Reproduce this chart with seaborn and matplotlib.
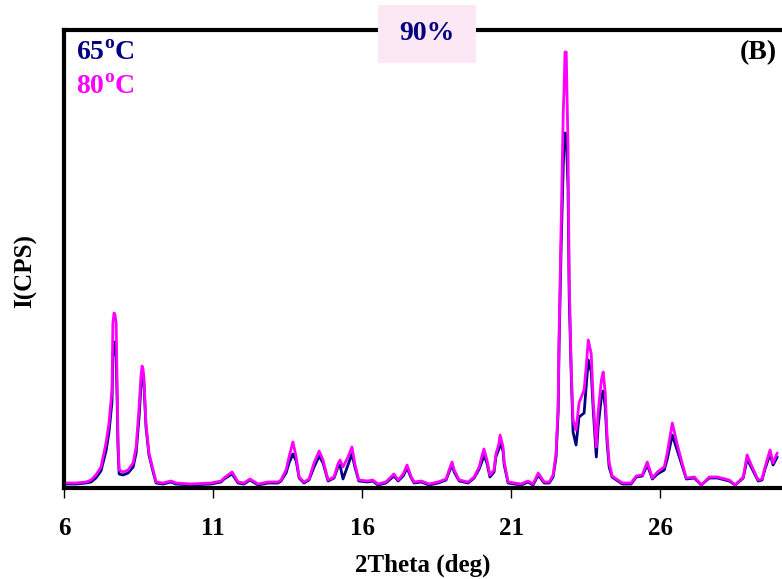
import numpy as np
import pandas as pd
import seaborn as sns
import matplotlib
matplotlib.use('Agg')
import matplotlib.pyplot as plt
from matplotlib.patches import Rectangle

# 2Theta positions (deg)
two_theta = [6.00, 6.40, 6.74, 6.91, 7.07, 7.24, 7.41, 7.51, 7.61, 7.64, 7.68, 7.71, 7.75, 7.78, 7.81, 7.85,
             7.98, 8.15, 8.32, 8.42, 8.52, 8.58, 8.62, 8.65, 8.68, 8.75, 8.85, 8.99, 9.09, 9.32, 9.59, 9.76,
             10.26, 10.93, 11.27, 11.37, 11.64, 11.84, 12.04, 12.24, 12.51, 12.85, 13.18, 13.28, 13.45, 13.55,
             13.68, 13.79, 13.89, 14.05, 14.22, 14.39, 14.56, 14.69, 14.86, 15.06, 15.19, 15.26, 15.36, 15.53,
             15.66, 15.76, 15.89, 16.19, 16.36, 16.53, 16.80, 17.07, 17.21, 17.38, 17.51, 17.65, 17.75, 17.99,
             18.25, 18.55, 18.82, 18.92, 19.02, 19.09, 19.26, 19.56, 19.76, 19.93, 20.03, 20.09, 20.19, 20.29,
             20.43, 20.49, 20.59, 20.63, 20.73, 20.77, 20.90, 21.34, 21.57, 21.74, 21.91, 22.11, 22.28, 22.41,
             22.51, 22.58, 22.61, 22.68, 22.75, 22.78, 22.81, 22.85, 22.91, 22.95, 23.02, 23.08, 23.18, 23.28,
             23.45, 23.52, 23.59, 23.69, 23.76, 23.86, 23.92, 24.03, 24.09, 24.16, 24.22, 24.29, 24.39, 24.73,
             25.03, 25.20, 25.40, 25.57, 25.74, 25.91, 26.14, 26.24, 26.41, 26.54, 26.71, 26.88, 27.15, 27.38,
             27.65, 27.92, 28.32, 28.52, 28.79, 28.92, 29.09, 29.29, 29.42, 29.52, 29.69, 29.79, 29.93]

# intensity (arbitrary units), 65 C and 80 C
i_65 = [3, 3, 4, 5, 9, 16, 36, 55, 85, 130, 145, 143, 130, 90, 40, 13,
        12, 14, 20, 34, 70, 100, 115, 113, 104, 60, 32, 15, 4, 3, 5, 3,
        2, 3, 5, 8, 13, 4, 3, 7, 2, 4, 4, 6, 14, 24,
        33, 26, 9, 4, 7, 20, 31, 24, 6, 9, 20, 22, 8, 22,
        33, 20, 6, 5, 6, 2, 4, 11, 6, 11, 19, 9, 4, 5,
        2, 4, 7, 15, 22, 15, 6, 4, 9, 18, 26, 32, 24, 10,
        15, 30, 38, 45, 36, 22, 4, 2, 5, 2, 12, 4, 4, 10,
        30, 75, 140, 240, 320, 345, 354, 352, 300, 190, 110, 55, 42, 70,
        74, 100, 127, 115, 75, 30, 60, 90, 96, 80, 45, 20, 10, 3,
        3, 10, 11, 22, 8, 13, 17, 28, 52, 40, 24, 8, 9, 2,
        9, 9, 6, 2, 9, 28, 18, 6, 7, 18, 33, 22, 30]

i_80 = [4, 4, 5, 7, 12, 20, 44, 64, 97, 164, 174, 172, 164, 104, 50, 17,
        15, 17, 24, 40, 80, 110, 121, 118, 110, 64, 34, 17, 5, 4, 6, 4,
        3, 4, 6, 9, 15, 5, 4, 8, 3, 5, 5, 7, 17, 30,
        45, 30, 10, 5, 8, 24, 36, 27, 7, 10, 23, 27, 20, 30,
        40, 23, 7, 6, 7, 3, 5, 13, 7, 13, 22, 10, 5, 6,
        3, 5, 8, 17, 25, 17, 7, 5, 10, 20, 32, 38, 27, 12,
        17, 33, 43, 52, 40, 25, 5, 3, 6, 3, 14, 5, 5, 12,
        34, 84, 150, 260, 374, 400, 435, 435, 340, 207, 117, 67, 57, 84,
        97, 120, 147, 133, 84, 40, 74, 107, 115, 94, 52, 25, 11, 4,
        4, 11, 12, 25, 9, 15, 20, 34, 64, 47, 27, 9, 10, 2,
        10, 10, 7, 2, 10, 32, 20, 7, 8, 20, 37, 24, 34]

temps = ["65", "80"]
colors = {"65": "#000080", "80": "#FF00FF"}

df = pd.concat([
    pd.DataFrame({"two_theta": two_theta, "intensity": i_65, "temp": "65"}),
    pd.DataFrame({"two_theta": two_theta, "intensity": i_80, "temp": "80"}),
])

sns.set_style("white")
plt.rcParams['font.family'] = ['Liberation Serif', 'DejaVu Serif']
plt.rcParams['font.weight'] = 'bold'
plt.rcParams['text.color'] = 'black'
plt.rcParams['axes.labelcolor'] = 'black'
plt.rcParams['mathtext.fontset'] = 'custom'
plt.rcParams['mathtext.rm'] = 'Liberation Serif:bold'
plt.rcParams['mathtext.bf'] = 'Liberation Serif:bold'

fig = plt.figure(figsize=(7.82, 5.79), dpi=100)
ax = fig.add_axes([64 / 782, 91 / 579, 1 - 64 / 782, 458 / 579])

sns.lineplot(data=df, x="two_theta", y="intensity", hue="temp", hue_order=temps,
             palette=colors, linewidth=2.0, legend=False, ax=ax, sort=False)

ax.set_xlim(6, 30.09)
ax.set_ylim(-1, 457)
ax.set_xticks([6, 11, 16, 21, 26])
ax.set_yticks([])
ax.tick_params(axis='x', direction='out', length=7, width=1, pad=14,
               labelsize=18, colors='black', labelcolor='black', bottom=True)
for lab in ax.get_xticklabels():
    lab.set_fontweight('bold')

for side in ['left', 'top', 'bottom']:
    ax.spines[side].set_linewidth(3)
    ax.spines[side].set_color('black')
ax.spines['right'].set_visible(False)

ax.set_xlabel("2Theta (deg)", fontsize=18, fontweight='bold', color='black')
ax.xaxis.label.set_va('center')
ax.xaxis.set_label_coords(0.5, -0.168)
ax.set_ylabel("I(CPS)", fontsize=18, fontweight='bold', color='black')
ax.yaxis.label.set_va('center')
ax.yaxis.set_label_coords(-0.054, 0.474)

# legend-like labels
fig.text(76 / 782, 1 - 53 / 579, "65$^{\\mathbf{o}}$C", color="#000080",
         fontsize=20, fontweight='bold', va='center', ha='left')
fig.text(76 / 782, 1 - 88 / 579, "80$^{\\mathbf{o}}$C", color="#FF00FF",
         fontsize=20, fontweight='bold', va='center', ha='left')
fig.text(777 / 782, 1 - 53 / 579, "(B)", color="black",
         fontsize=20, fontweight='bold', va='center', ha='right')

# title box
box = Rectangle((378 / 782, 1 - 63 / 579), 98 / 782, 58 / 579, transform=fig.transFigure,
                facecolor="#FCE8F4", edgecolor='none', zorder=5)
fig.add_artist(box)
fig.text(427 / 782, 1 - 34 / 579, "90%", color="#000080", fontsize=20,
         fontweight='bold', va='center', ha='center', zorder=6)

plt.savefig("out.png", dpi=100)
